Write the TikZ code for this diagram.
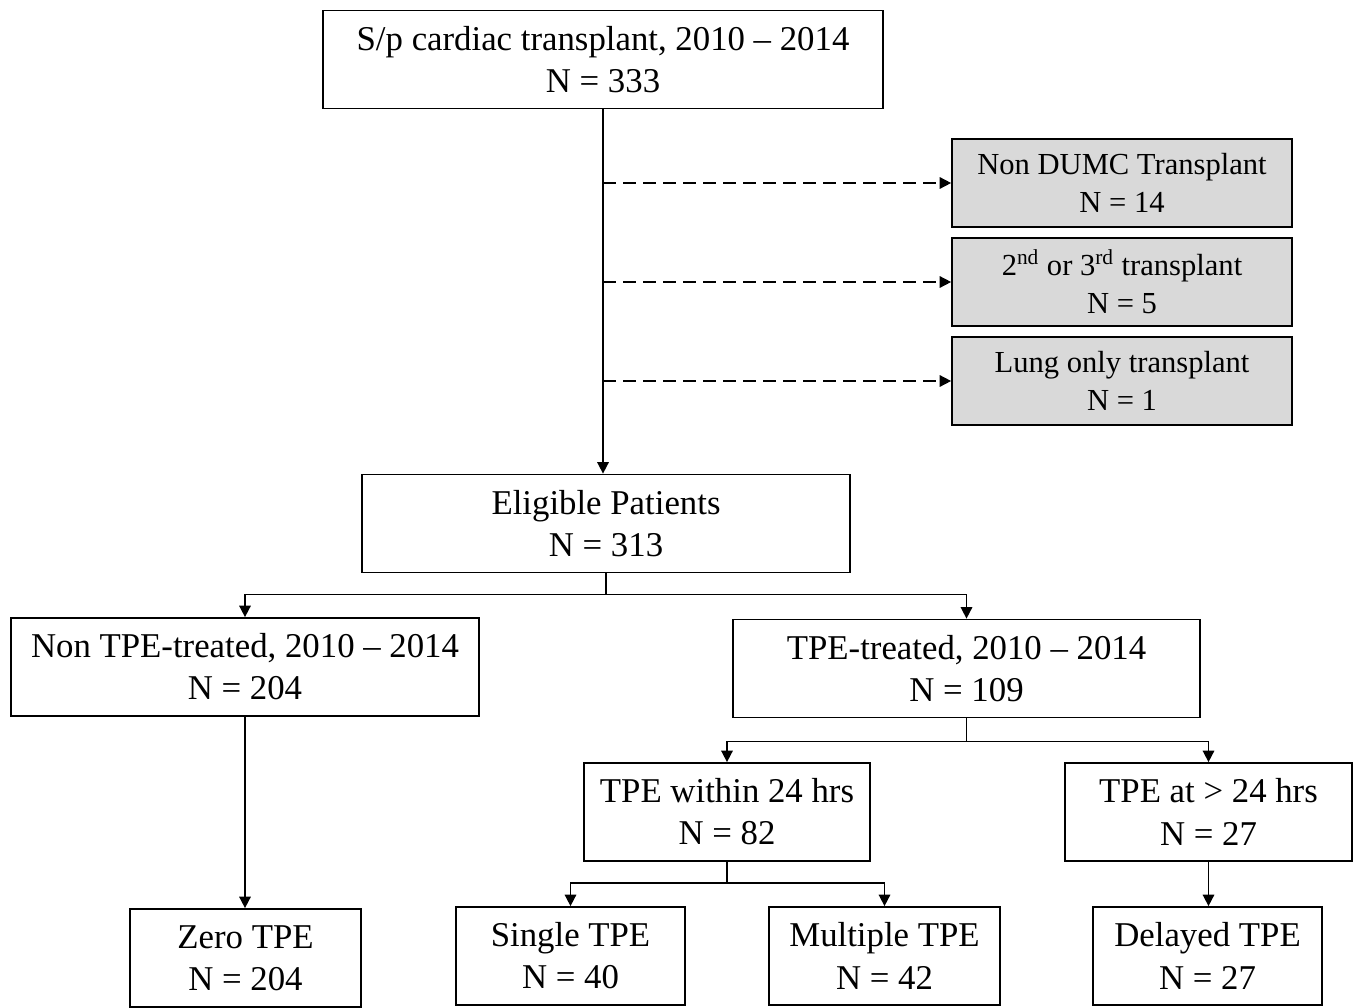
\documentclass[tikz,border=0pt]{standalone}
\usepackage{fontspec}
\setmainfont{Liberation Serif}
\usetikzlibrary{arrows.meta}
\begin{document}
\begin{tikzpicture}[x=0.02cm,y=-0.02cm,
    font=\fontsize{19.8}{24}\selectfont,
    box/.style={draw, line width=1pt, align=center, inner sep=0pt, minimum height=1.96cm},
    gbox/.style={box, fill=gray!30, minimum height=1.76cm, minimum width=6.8cm,
        font=\fontsize{17.4}{21.8}\selectfont},
    arr/.style={-{Triangle[length=6.5pt,width=6.5pt]}, line width=0.9pt},
    dash line/.style={arr, dash pattern=on 7.4pt off 4pt}]
    \useasboundingbox (0,0) rectangle (1355,1007);
    % boxes
    \node[box, minimum width=11.2cm] (top) at (603,59.5) {S/p cardiac transplant, 2010 -- 2014\\N = 333};
    \node[gbox] (excl1) at (1122,183) {Non DUMC Transplant\\N = 14};
    \node[gbox] (excl2) at (1122,282) {2\textsuperscript{nd} or 3\textsuperscript{rd} transplant\\N = 5};
    \node[gbox] (excl3) at (1122,381) {Lung only transplant\\N = 1};
    \node[box, minimum width=9.76cm] (elig) at (606,523.5) {Eligible Patients\\N = 313};
    \node[box, minimum width=9.36cm] (nontpe) at (245,667) {Non TPE-treated, 2010 -- 2014\\N = 204};
    \node[box, minimum width=9.34cm] (tpe) at (966.5,668.5) {TPE-treated, 2010 -- 2014\\N = 109};
    \node[box, minimum width=5.72cm] (early) at (727,812) {TPE within 24 hrs\\N = 82};
    \node[box, minimum width=5.74cm] (late) at (1208.5,812) {TPE at > 24 hrs\\N = 27};
    \node[box, minimum width=4.62cm] (zero) at (245.5,958) {Zero TPE\\N = 204};
    \node[box, minimum width=4.58cm] (single) at (570.5,956) {Single TPE\\N = 40};
    \node[box, minimum width=4.62cm] (multi) at (884.5,956) {Multiple TPE\\N = 42};
    \node[box, minimum width=4.58cm] (delayed) at (1207.5,956) {Delayed TPE\\N = 27};
    % connectors
    \draw[arr] (top.south) -- (top.south |- elig.north);
    \draw[dash line] (top.south |- excl1.west) -- (excl1.west);
    \draw[dash line] (top.south |- excl2.west) -- (excl2.west);
    \draw[dash line] (top.south |- excl3.west) -- (excl3.west);
    \draw[line width=0.9pt] (elig.south) -- ++(0,21) coordinate (s1);
    \draw[arr] (s1) -| (nontpe.north);
    \draw[arr] (s1) -| (tpe.north);
    \draw[arr] (nontpe.south) -- (nontpe.south |- zero.north);
    \draw[line width=0.9pt] (tpe.south) -- ++(0,23) coordinate (s2);
    \draw[arr] (s2) -| (early.north);
    \draw[arr] (s2) -| (late.north);
    \draw[line width=0.9pt] (early.south) -- ++(0,21) coordinate (s3);
    \draw[arr] (s3) -| (single.north);
    \draw[arr] (s3) -| (multi.north);
    \draw[arr] (late.south) -- (late.south |- delayed.north);
\end{tikzpicture}
\end{document}
